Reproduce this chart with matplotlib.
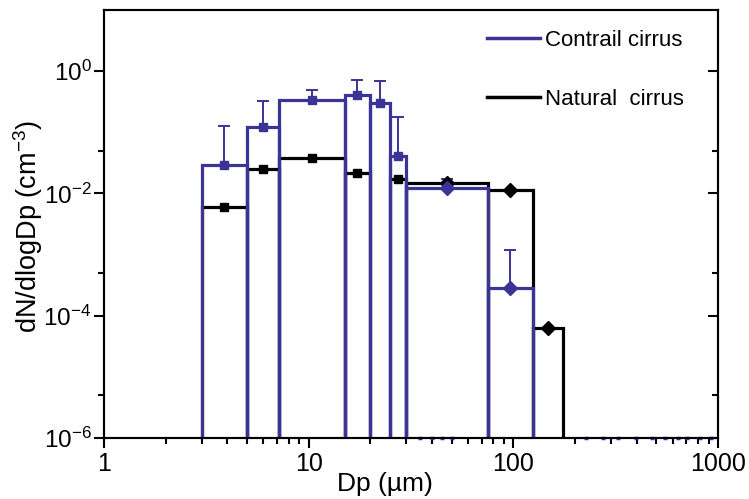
import numpy as np
import matplotlib
matplotlib.use("Agg")
import matplotlib.pyplot as plt
from matplotlib.lines import Line2D
from matplotlib.ticker import NullFormatter

plt.rcParams['font.family'] = ['Liberation Sans', 'DejaVu Sans']
plt.rcParams['mathtext.fontset'] = 'custom'
plt.rcParams['mathtext.rm'] = 'Liberation Sans'
plt.rcParams['mathtext.it'] = 'Liberation Sans:italic'
plt.rcParams['mathtext.bf'] = 'Liberation Sans:bold'

# ---- data ----
bin_edges = [3, 5, 7.2, 15, 20, 25, 30, 75, 125, 175]
contrail_vals = [0.029, 0.124, 0.34, 0.40, 0.307, 0.041, 0.0122, 2.85e-4, np.nan]
contrail_upper = [0.128, 0.32, 0.49, 0.72, 0.70, 0.177, 0.0175, 1.2e-3, np.nan]
natural_vals = [6.1e-3, 0.0253, 0.0379, 0.0215, np.nan, 0.0172, 0.0148, 0.0115, 6.2e-5]
contrail_markers = ['s', 's', 's', 's', 's', 's', 'D', 'D', 'D']
natural_markers = ['s', 's', 's', 's', 's', 's', 'D', 'D', 'D']
zero_x = [35, 40, 45, 50, 227, 275, 325, 398, 476, 551, 638, 706, 817, 925]
legend_labels = ['Contrail cirrus', 'Natural  cirrus']
x_major = [1, 10, 100, 1000]
x_major_labels = ['1', '10', '100', '1000']
y_major = [1e-6, 1e-4, 1e-2, 1e0]
y_major_labels = [r'$10^{-6}$', r'$10^{-4}$', r'$10^{-2}$', r'$10^{0}$']
y_minor = [5e-6, 5e-4, 5e-2]

blue = '#3b3396'
black = '#000000'

fig = plt.figure(figsize=(7.49, 4.99), dpi=100)
ax = fig.add_axes([104/749, 1-438/499, (718-104)/749, (438-10)/499])
ax.set_xscale('log')
ax.set_yscale('log')
ax.set_xlim(1, 1000)
ax.set_ylim(1e-6, 10)

edges = np.array(bin_edges, dtype=float)
lefts = edges[:-1]
widths = np.diff(edges)
centers = np.sqrt(edges[:-1] * edges[1:])
floor = 1e-9

cv = np.array(contrail_vals, dtype=float)
cu = np.array(contrail_upper, dtype=float)
nv = np.array(natural_vals, dtype=float)

# natural cirrus bars (outlines)
m = ~np.isnan(nv)
ax.bar(lefts[m], nv[m] - floor, width=widths[m], bottom=floor, align='edge',
       fill=False, edgecolor=black, linewidth=2.3, zorder=2)
# contrail cirrus bars (outlines)
m2 = ~np.isnan(cv)
ax.bar(lefts[m2], cv[m2] - floor, width=widths[m2], bottom=floor, align='edge',
       fill=False, edgecolor=blue, linewidth=2.3, zorder=3)

# error bars (upper only)
for i in np.where(m2)[0]:
    ax.errorbar([centers[i]], [cv[i]], yerr=[[0], [cu[i] - cv[i]]], fmt='none',
                ecolor=blue, elinewidth=1.4, capsize=4, capthick=1.4, zorder=3.5)

# markers
for i in np.where(m)[0]:
    ax.plot(centers[i], nv[i], marker=natural_markers[i], color=black,
            markersize=6 if natural_markers[i] == 's' else 7, linestyle='none', zorder=4)
for i in np.where(m2)[0]:
    ax.plot(centers[i], cv[i], marker=contrail_markers[i], color=blue,
            markersize=6 if contrail_markers[i] == 's' else 7, linestyle='none', zorder=5)

# zero-valued points on the floor
ax.plot(zero_x, [1e-6] * len(zero_x), marker='_', color=blue, markersize=3.5,
        markeredgewidth=2.5, linestyle='none', zorder=6, clip_on=False)

# ticks
ax.set_xticks(x_major)
ax.set_xticklabels(x_major_labels)
ax.set_yticks(y_major)
ax.set_yticklabels(y_major_labels)
ax.set_yticks(y_minor, minor=True)
ax.yaxis.set_minor_formatter(NullFormatter())
ax.tick_params(axis='both', which='major', labelsize=18, length=7, width=1.5, direction='out', pad=3)
ax.tick_params(axis='y', which='major', labelsize=17.5, pad=2)
ax.tick_params(axis='both', which='minor', length=4, width=1.5, direction='out')
for s in ax.spines.values():
    s.set_linewidth(1.5)

# right axis with inward ticks
ax2 = ax.twinx()
ax2.set_yscale('log')
ax2.set_ylim(ax.get_ylim())
ax2.set_yticks(y_major)
ax2.set_yticks(y_minor, minor=True)
ax2.yaxis.set_major_formatter(NullFormatter())
ax2.yaxis.set_minor_formatter(NullFormatter())
ax2.tick_params(axis='y', which='major', length=7, width=1.5, direction='in')
ax2.tick_params(axis='y', which='minor', length=4, width=1.5, direction='in')
for s in ax2.spines.values():
    s.set_linewidth(1.5)

ax.set_xlabel('Dp (µm)', fontsize=19, labelpad=-3, x=0.458)
ax.set_ylabel(r'dN/dlogDp (cm$^{-3}$)', fontsize=19.5, labelpad=-1, y=0.493)

handles = [Line2D([], [], color=blue, lw=2.5), Line2D([], [], color=black, lw=2.5)]
ax2.legend(handles, legend_labels, loc='upper left', bbox_to_anchor=(0.623, 0.953),
           frameon=False, fontsize=16, handlelength=2.4, handletextpad=0.25,
           labelspacing=1.7, borderpad=0, borderaxespad=0)

fig.savefig('out.png', dpi=100)
